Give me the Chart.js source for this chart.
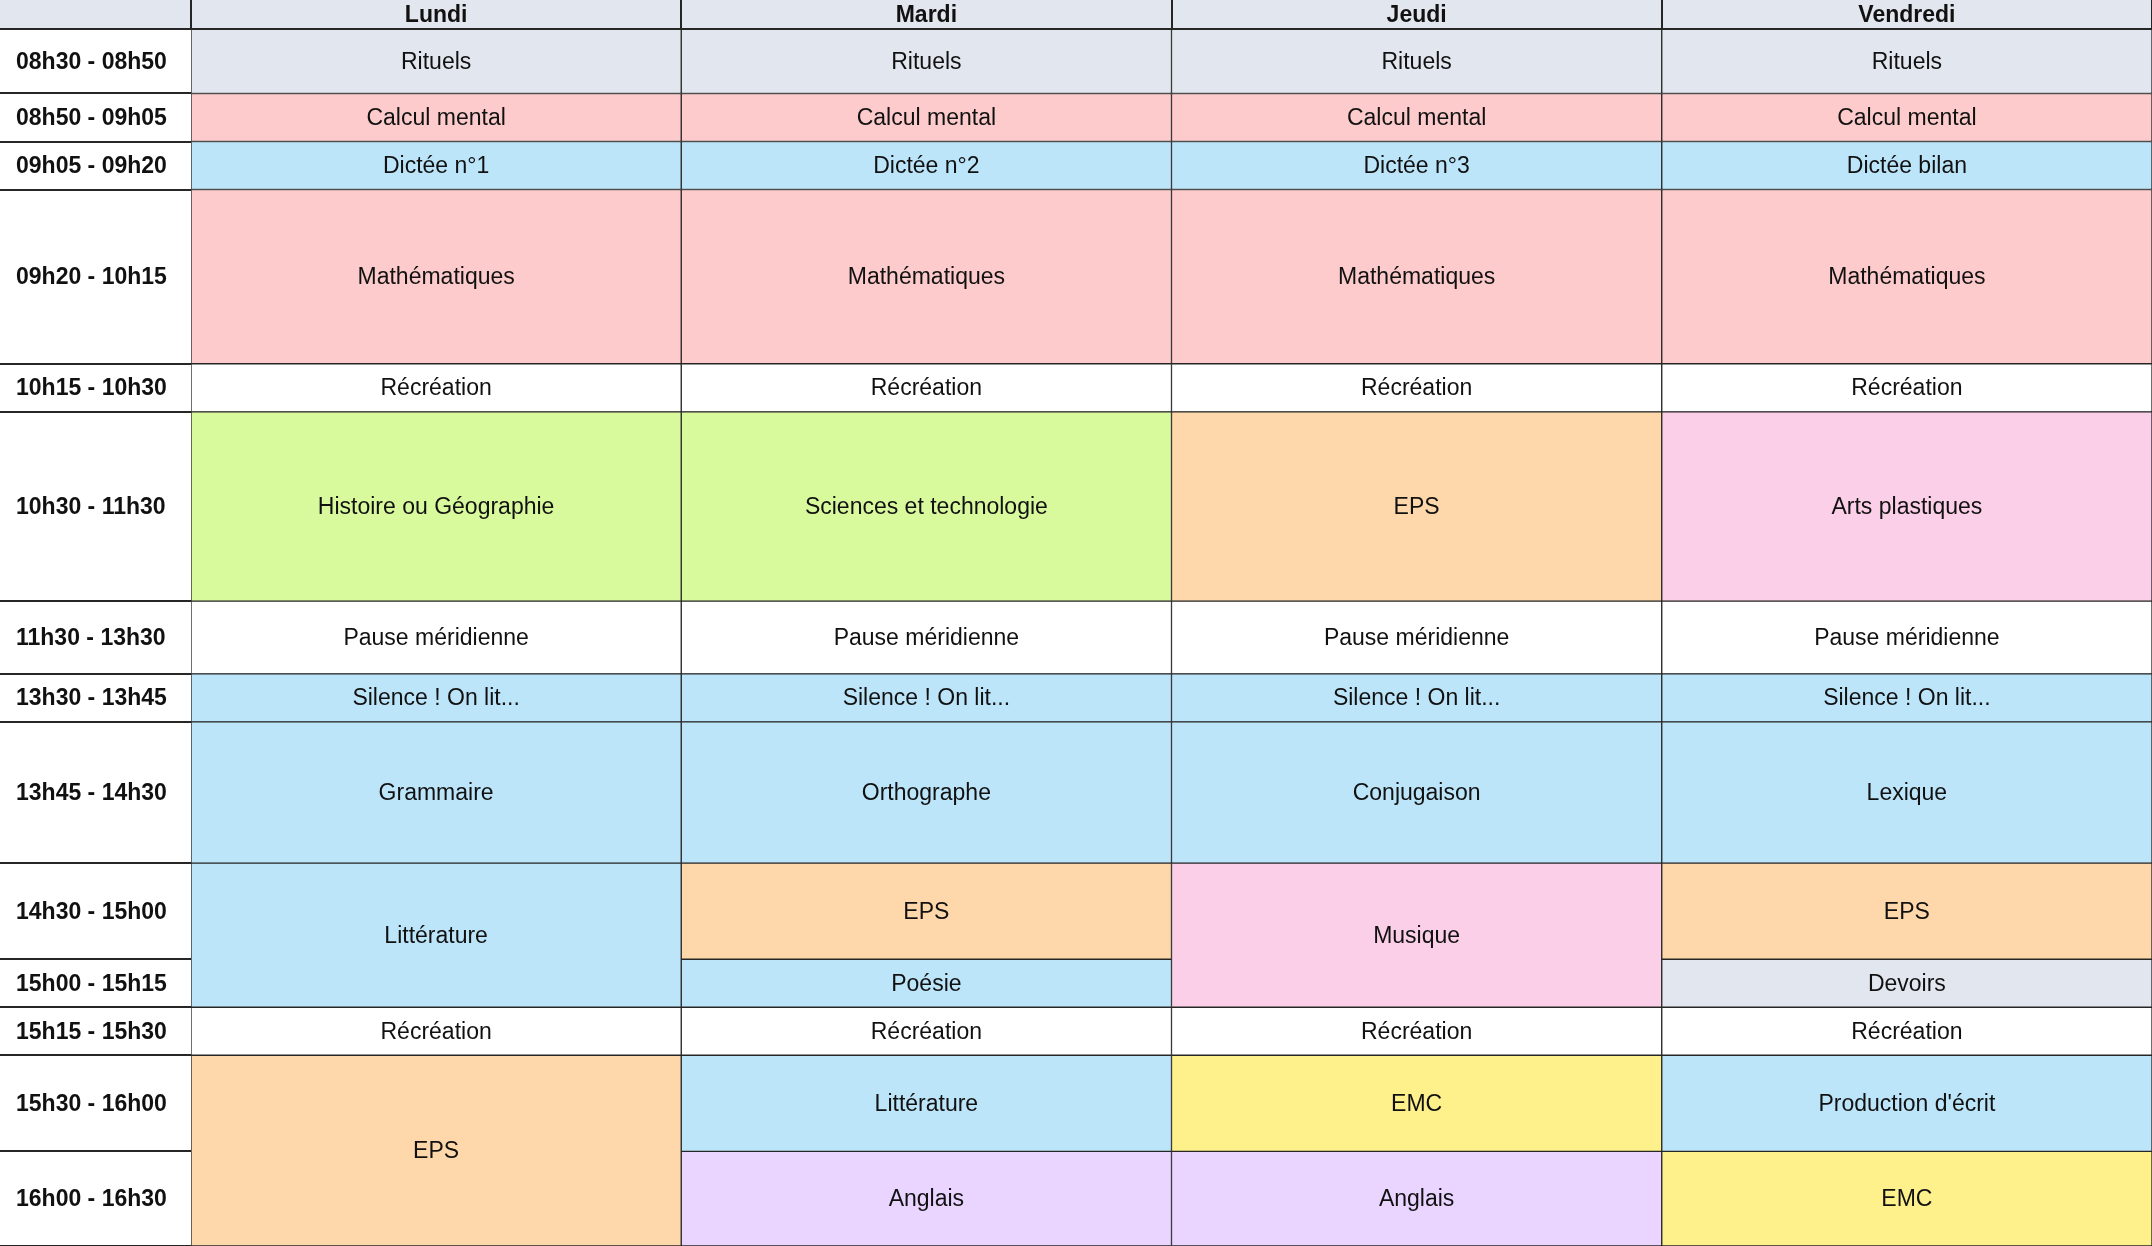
<!DOCTYPE html>
<html>
<head>
<meta charset="utf-8">
<script src="https://cdn.jsdelivr.net/npm/chart.js@4"></script>
<style>
  body { margin: 0; background: #fff; }
  #wrap { width: 2152px; height: 1246px; }
</style>
</head>
<body>
<div id="wrap"><canvas id="edt"></canvas></div>
<script>
(() => {
  'use strict'

  const days = ['Lundi', 'Mardi', 'Jeudi', 'Vendredi']
  const slotLabels = ['08h30 - 08h50', '08h50 - 09h05', '09h05 - 09h20', '09h20 - 10h15',
    '10h15 - 10h30', '10h30 - 11h30', '11h30 - 13h30', '13h30 - 13h45', '13h45 - 14h30',
    '14h30 - 15h00', '15h00 - 15h15', '15h15 - 15h30', '15h30 - 16h00', '16h00 - 16h30']
  // row heights of the grid (layout, not time)
  const rowHeights = [47, 35, 35, 127, 35, 138, 53, 35, 103, 70, 35, 35, 70, 69]

  const C = {
    gris: '#e2e7ef', rose: '#fdcbcb', bleu: '#bce5fa', vert: '#d9f99d', orange: '#fed7aa',
    mauve: '#fbcfe8', violet: '#e9d5ff', jaune: '#fef08a', blanc: '#ffffff'
  }

  // [first slot, last slot (excluded), subject, colour]
  const lundi = [[0, 1, 'Rituels', 'gris'], [1, 2, 'Calcul mental', 'rose'], [2, 3, 'Dictée n°1', 'bleu'],
    [3, 4, 'Mathématiques', 'rose'], [4, 5, 'Récréation', 'blanc'], [5, 6, 'Histoire ou Géographie', 'vert'],
    [6, 7, 'Pause méridienne', 'blanc'], [7, 8, 'Silence ! On lit...', 'bleu'], [8, 9, 'Grammaire', 'bleu'],
    [9, 11, 'Littérature', 'bleu'], [11, 12, 'Récréation', 'blanc'], [12, 14, 'EPS', 'orange']]
  const mardi = [[0, 1, 'Rituels', 'gris'], [1, 2, 'Calcul mental', 'rose'], [2, 3, 'Dictée n°2', 'bleu'],
    [3, 4, 'Mathématiques', 'rose'], [4, 5, 'Récréation', 'blanc'], [5, 6, 'Sciences et technologie', 'vert'],
    [6, 7, 'Pause méridienne', 'blanc'], [7, 8, 'Silence ! On lit...', 'bleu'], [8, 9, 'Orthographe', 'bleu'],
    [9, 10, 'EPS', 'orange'], [10, 11, 'Poésie', 'bleu'], [11, 12, 'Récréation', 'blanc'],
    [12, 13, 'Littérature', 'bleu'], [13, 14, 'Anglais', 'violet']]
  const jeudi = [[0, 1, 'Rituels', 'gris'], [1, 2, 'Calcul mental', 'rose'], [2, 3, 'Dictée n°3', 'bleu'],
    [3, 4, 'Mathématiques', 'rose'], [4, 5, 'Récréation', 'blanc'], [5, 6, 'EPS', 'orange'],
    [6, 7, 'Pause méridienne', 'blanc'], [7, 8, 'Silence ! On lit...', 'bleu'], [8, 9, 'Conjugaison', 'bleu'],
    [9, 11, 'Musique', 'mauve'], [11, 12, 'Récréation', 'blanc'], [12, 13, 'EMC', 'jaune'], [13, 14, 'Anglais', 'violet']]
  const vendredi = [[0, 1, 'Rituels', 'gris'], [1, 2, 'Calcul mental', 'rose'], [2, 3, 'Dictée bilan', 'bleu'],
    [3, 4, 'Mathématiques', 'rose'], [4, 5, 'Récréation', 'blanc'], [5, 6, 'Arts plastiques', 'mauve'],
    [6, 7, 'Pause méridienne', 'blanc'], [7, 8, 'Silence ! On lit...', 'bleu'], [8, 9, 'Lexique', 'bleu'],
    [9, 10, 'EPS', 'orange'], [10, 11, 'Devoirs', 'gris'], [11, 12, 'Récréation', 'blanc'],
    [12, 13, 'Production d\'écrit', 'bleu'], [13, 14, 'EMC', 'jaune']]
  const planning = [lundi, mardi, jeudi, vendredi]

  const bounds = [0]
  rowHeights.forEach(h => bounds.push(bounds[bounds.length - 1] + h))

  const cells = []
  planning.forEach((list, d) => list.forEach(c => cells.push({
    x: days[d], y: [bounds[c[0]], bounds[c[1]]], label: c[2], color: C[c[3]]
  })))

  const FONT = '"Liberation Sans", Arial, sans-serif'
  const LINE = '#262626'

  const gridPlugin = {
    id: 'grid',
    afterDatasetsDraw(chart) {
      const ctx = chart.ctx
      const area = chart.chartArea
      const xs = chart.scales.x, ys = chart.scales.y
      const colW = area.width / days.length
      ctx.save()
      // cell texts
      ctx.fillStyle = '#111'
      ctx.font = '23px ' + FONT
      ctx.textAlign = 'center'
      ctx.textBaseline = 'middle'
      cells.forEach(c => {
        const cy = (ys.getPixelForValue(c.y[0]) + ys.getPixelForValue(c.y[1])) / 2
        ctx.fillText(c.label, xs.getPixelForValue(days.indexOf(c.x)), cy + 1)
      })
      // header
      ctx.fillStyle = C.gris
      ctx.fillRect(0, 0, chart.width, area.top)
      ctx.fillStyle = '#111'
      ctx.font = 'bold 23px ' + FONT
      days.forEach((d, i) => ctx.fillText(d, xs.getPixelForValue(i), area.top / 2 + 1))
      // time column
      ctx.textAlign = 'left'
      slotLabels.forEach((s, i) => {
        const cy = (ys.getPixelForValue(bounds[i]) + ys.getPixelForValue(bounds[i + 1])) / 2
        ctx.fillText(s, 16, cy + 1)
      })
      ctx.strokeStyle = LINE
      ctx.lineWidth = 2
      ctx.beginPath()
      bounds.forEach(b => {
        const y = Math.round(ys.getPixelForValue(b))
        ctx.moveTo(0, y); ctx.lineTo(area.left, y)
      })
      ctx.moveTo(0, area.top); ctx.lineTo(chart.width, area.top)
      for (let i = 0; i <= days.length; i++) {
        const x = Math.round(area.left + i * colW)
        ctx.moveTo(x, 0); ctx.lineTo(x, area.top)
      }
      ctx.stroke()
      ctx.restore()
    }
  }

  new Chart(document.getElementById('edt'), {
    type: 'bar',
    data: {
      labels: days,
      datasets: [{
        data: cells,
        backgroundColor: cells.map(c => c.color),
        borderColor: LINE,
        borderWidth: 1,
        borderSkipped: false,
        categoryPercentage: 1,
        barPercentage: 1
      }]
    },
    options: {
      responsive: true,
      maintainAspectRatio: false,
      animation: false,
      layout: { padding: { left: 191, top: 29, right: 0, bottom: 0 } },
      scales: {
        x: { display: false },
        y: { display: false, reverse: true, min: 0, max: bounds[bounds.length - 1] }
      },
      plugins: { legend: { display: false }, tooltip: { enabled: false } }
    },
    plugins: [gridPlugin]
  })
})()
</script>
</body>
</html>
